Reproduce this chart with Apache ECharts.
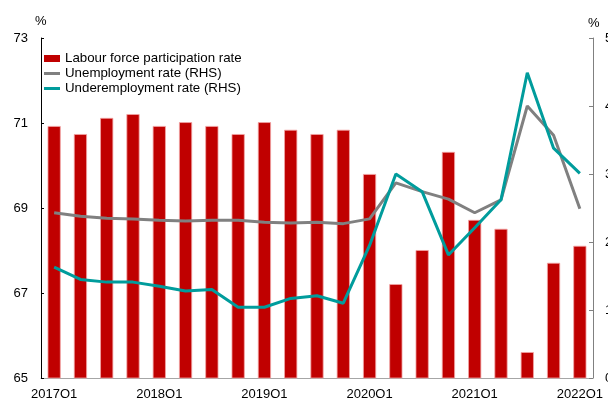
<!DOCTYPE html>
<html>
<head>
<meta charset="utf-8">
<script src="https://cdn.jsdelivr.net/npm/echarts@6/dist/echarts.min.js"></script>
<style>
  html, body { margin: 0; padding: 0; background: #fff; }
  #chart { width: 608px; height: 398px; }
</style>
</head>
<body>
<div id="chart"></div>
<script>
// Quarterly labour market indicators, 2017Q1 – 2022Q1
const quarters = [
  '2017Q1','2017Q2','2017Q3','2017Q4',
  '2018Q1','2018Q2','2018Q3','2018Q4',
  '2019Q1','2019Q2','2019Q3','2019Q4',
  '2020Q1','2020Q2','2020Q3','2020Q4',
  '2021Q1','2021Q2','2021Q3','2021Q4',
  '2022Q1'
];

// Labour force participation rate, % (left axis)
const participation = [
  70.93, 70.74, 71.12, 71.21,
  70.93, 71.02, 70.93, 70.74,
  71.02, 70.84, 70.74, 70.84,
  69.80, 67.21, 68.01, 70.32,
  68.72, 68.51, 65.61, 67.71,
  68.11
];

// Unemployment rate, % (right axis)
const unemployment = [
  2.43, 2.38, 2.35, 2.34,
  2.32, 2.31, 2.32, 2.32,
  2.29, 2.28, 2.29, 2.27,
  2.34, 2.87, 2.74, 2.63,
  2.43, 2.62, 4.00, 3.57,
  2.49
];

// Underemployment rate, % (right axis)
const underemployment = [
  1.63, 1.45, 1.41, 1.41,
  1.35, 1.28, 1.30, 1.04,
  1.04, 1.17, 1.21, 1.10,
  1.95, 3.00, 2.74, 1.81,
  2.21, 2.62, 4.49, 3.38,
  3.01
];

const leftTicks = { min: 65, max: 73, step: 2 };
const rightTicks = { min: 0, max: 5, step: 1 };

const FONT = '"Liberation Sans", Arial, sans-serif';
const RED = '#C00000';
const GREY = '#808080';
const TEAL = '#009C9C';

// Legend key for the lines: a 3px bar centred in a 16x7 box
const LINE_KEY = 'path://M0,0M0,2L16,2L16,5L0,5ZM16,7';

const chart = echarts.init(document.getElementById('chart'), null, { renderer: 'canvas' });

chart.setOption({
  animation: false,
  textStyle: { fontFamily: FONT, color: '#000' },
  grid: {
    left: 41, right: 15, top: 38, bottom: 20,
    containLabel: false,
    outerBoundsMode: 'none'
  },
  legend: {
    orient: 'vertical',
    left: 39,
    top: 47,
    itemWidth: 16,
    itemHeight: 7,
    itemGap: 2,
    textStyle: { fontFamily: FONT, fontSize: 13.3, color: '#000', lineHeight: 13 },
    data: [
      { name: 'Labour force participation rate', icon: 'rect', itemStyle: { color: RED, borderWidth: 0 } },
      { name: 'Unemployment rate (RHS)', icon: LINE_KEY, itemStyle: { color: GREY, borderWidth: 0 } },
      { name: 'Underemployment rate (RHS)', icon: LINE_KEY, itemStyle: { color: TEAL, borderWidth: 0 } }
    ]
  },
  graphic: [
    { type: 'text', left: 35, top: 15, style: { text: '%', font: '13px ' + FONT, fill: '#000' } },
    { type: 'text', left: 588, top: 17, style: { text: '%', font: '13px ' + FONT, fill: '#000' } }
  ],
  xAxis: {
    type: 'category',
    data: quarters,
    boundaryGap: true,
    axisLine: { lineStyle: { color: '#A6A6A6', width: 1 } },
    axisTick: { show: false },
    axisLabel: {
      interval: 3,
      fontFamily: FONT,
      fontSize: 13,
      color: '#000',
      margin: 10
    },
    splitLine: { show: false }
  },
  yAxis: [
    {
      type: 'value',
      min: leftTicks.min,
      max: leftTicks.max,
      interval: leftTicks.step,
      position: 'left',
      axisLine: { show: true, lineStyle: { color: '#000', width: 1 } },
      axisTick: { show: true, inside: true, length: 3, lineStyle: { color: '#000' } },
      axisLabel: { fontFamily: FONT, fontSize: 13, color: '#000', margin: 13 },
      splitLine: { show: false }
    },
    {
      type: 'value',
      min: rightTicks.min,
      max: rightTicks.max,
      interval: rightTicks.step,
      position: 'right',
      axisLine: { show: true, lineStyle: { color: '#808080', width: 1 } },
      axisTick: { show: true, inside: true, length: 4, lineStyle: { color: '#808080' } },
      axisLabel: { fontFamily: FONT, fontSize: 13, color: '#000', margin: 12 },
      splitLine: { show: false }
    }
  ],
  series: [
    {
      name: 'Labour force participation rate',
      type: 'bar',
      yAxisIndex: 0,
      data: participation,
      barWidth: '50%',
      itemStyle: { color: RED, borderColor: '#F2A5A5', borderWidth: 0.8 },
      z: 1
    },
    {
      name: 'Unemployment rate (RHS)',
      type: 'line',
      yAxisIndex: 1,
      data: unemployment,
      symbol: 'none',
      lineStyle: { color: GREY, width: 3 },
      itemStyle: { color: GREY },
      z: 3
    },
    {
      name: 'Underemployment rate (RHS)',
      type: 'line',
      yAxisIndex: 1,
      data: underemployment,
      symbol: 'none',
      lineStyle: { color: TEAL, width: 3 },
      itemStyle: { color: TEAL },
      z: 4
    }
  ]
});
</script>
</body>
</html>
